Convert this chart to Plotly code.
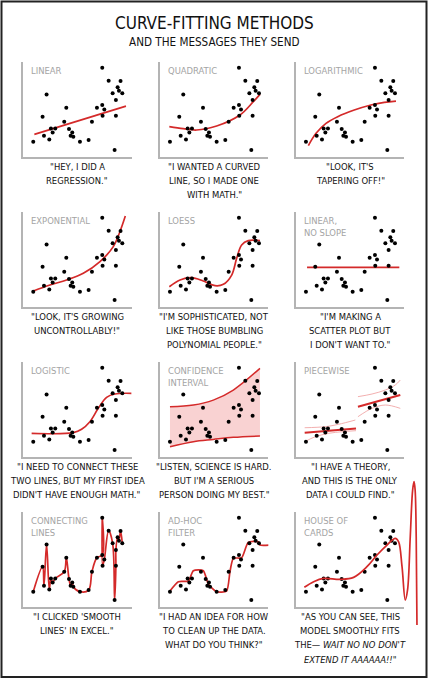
import plotly.graph_objects as go

W, H = 428, 680
FONT = "DejaVu Sans Condensed, Liberation Sans Narrow, Liberation Sans, sans-serif"
RED = "#d42a2a"

# same scatter in every panel (x 0..10 across the box, y 0..10 up the box)
pts_x = [0.92, 1.78, 1.91, 2.15, 2.40, 2.55, 2.71, 2.95, 3.78, 3.97, 4.22, 4.37, 4.52, 4.62, 5.23, 6.03,
         6.34, 6.80, 7.29, 7.29, 7.32, 7.48, 7.88, 8.25, 8.43, 8.55, 8.55, 8.71, 8.83, 8.98, 9.14]
pts_y = [1.58, 4.21, 2.21, 6.56, 1.82, 2.98, 2.56, 2.98, 3.68, 5.16, 2.91, 2.21, 2.56, 2.11, 1.58, 1.75,
         3.68, 5.16, 9.37, 5.44, 4.32, 4.98, 8.00, 6.67, 0.70, 5.96, 4.32, 7.30, 6.95, 7.96, 6.67]

panel_titles = ["LINEAR", "QUADRATIC", "LOGARITHMIC",
                "EXPONENTIAL", "LOESS", "LINEAR,<br>NO SLOPE",
                "LOGISTIC", "CONFIDENCE<br>INTERVAL", "PIECEWISE",
                "CONNECTING<br>LINES", "AD-HOC<br>FILTER", "HOUSE OF<br>CARDS"]

captions = [
    "\"HEY, I DID A<br>REGRESSION.\"",
    "\"I WANTED A CURVED<br>LINE, SO I MADE ONE<br>WITH MATH.\"",
    "\"LOOK, IT'S<br>TAPERING OFF!\"",
    "\"LOOK, IT'S GROWING<br>UNCONTROLLABLY!\"",
    "\"I'M SOPHISTICATED, NOT<br>LIKE THOSE BUMBLING<br>POLYNOMIAL PEOPLE.\"",
    "\"I'M MAKING A<br>SCATTER PLOT BUT<br>I DON'T WANT TO.\"",
    "\"I NEED TO CONNECT THESE<br>TWO LINES, BUT MY FIRST IDEA<br>DIDN'T HAVE ENOUGH MATH.\"",
    "\"LISTEN, SCIENCE IS HARD.<br>BUT I'M A SERIOUS<br>PERSON DOING MY BEST.\"",
    "\"I HAVE A THEORY,<br>AND THIS IS THE ONLY<br>DATA I COULD FIND.\"",
    "\"I CLICKED 'SMOOTH<br>LINES' IN EXCEL.\"",
    "\"I HAD AN IDEA FOR HOW<br>TO CLEAN UP THE DATA.<br>WHAT DO YOU THINK?\"",
    "\"AS YOU CAN SEE, THIS<br>MODEL SMOOTHLY FITS<br>THE\u2014 <i>WAIT NO NO DON'T</i><br><i>EXTEND IT AAAAAA!!</i>\"",
]

# red curves
linear_x = [1.02, 9.48]
linear_y = [2.35, 5.33]
quad_x = [0.86, 2.15, 3.38, 5.23, 7.38, 8.62, 9.23]
quad_y = [3.16, 2.95, 2.81, 3.23, 4.39, 5.79, 6.56]
log_x = [1.14, 1.85, 2.77, 3.85, 5.38, 6.92, 8.15, 9.23]
log_y = [1.16, 2.46, 3.51, 4.21, 4.91, 5.44, 5.72, 5.86]
exp_x = [0.92, 2.46, 4.00, 5.54, 7.08, 8.31, 8.92, 9.42]
exp_y = [1.65, 2.28, 2.81, 3.51, 4.74, 6.32, 7.89, 9.54]
loess_x = [0.86, 1.85, 2.92, 4.00, 5.08, 5.85, 6.62, 7.08, 7.54, 8.15, 9.23]
loess_y = [2.10, 2.81, 3.05, 2.70, 2.21, 2.35, 3.33, 5.09, 6.49, 6.95, 6.95]
flat_x = [1.02, 9.54]
flat_y = [4.14, 4.14]
logistic_x = [0.77, 4.62, 5.38, 6.15, 6.92, 7.69, 8.46, 10.0]
logistic_y = [2.46, 2.53, 2.88, 3.68, 5.09, 6.25, 6.60, 6.67]
ci_x = [0.92, 3.08, 4.92, 6.77, 9.23]
ci_hi = [5.26, 5.44, 5.96, 7.02, 9.30]
ci_lo = [1.05, 1.58, 1.82, 2.04, 2.18]
pw_left_x = [0.80, 5.54]
pw_left_y = [2.53, 2.98]
pw_left_hi_x = [0.80, 2.70, 3.93, 5.48]
pw_left_hi_y = [3.05, 3.16, 3.41, 3.86]
pw_left_lo_x = [0.80, 1.78, 3.01, 4.25, 5.54]
pw_left_lo_y = [1.58, 2.10, 2.46, 2.63, 2.74]
pw_right_x = [5.72, 9.63]
pw_right_y = [5.26, 6.49]
pw_right_hi_x = [5.72, 7.02, 8.25, 9.17, 9.63]
pw_right_hi_y = [6.32, 6.60, 7.02, 7.55, 8.07]
pw_right_lo_x = [5.72, 7.02, 8.25, 9.63]
pw_right_lo_y = [4.21, 5.09, 5.44, 5.09]
adhoc_x = [0.92, 1.69, 2.62, 3.08, 4.00, 4.46, 5.23, 6.15, 6.46, 6.77, 7.54, 8.15, 9.08, 9.23, 10.2]
adhoc_y = [1.65, 2.63, 2.70, 3.79, 3.79, 2.39, 1.58, 1.65, 3.68, 5.09, 5.16, 6.77, 6.84, 6.49, 6.49]
house_x = [0.77, 1.63, 2.55, 4.09, 5.32, 6.55, 7.48, 8.40, 9.17, 9.47, 9.79, 10.09, 10.30,
           10.55, 10.77, 10.90, 11.00, 11.10, 11.17]
house_y = [2.04, 2.63, 2.98, 2.88, 3.09, 4.21, 5.44, 6.49, 7.20, 6.84, 4.21, 0.70, 1.76,
           7.37, 12.28, 13.16, 12.28, 7.37, -1.93]

# panel boxes in pixels
col_left = [23.3, 160.0, 296.0]
row_top = [61.7, 211.7, 361.7, 511.7]
box_w, box_h = 108.3, 95.0
px_x = box_w / 10.0
px_y = box_h / 10.0
cap_gap, cap_step = 9.5, 14.3   # first caption line centre below box, then line to line


def px(x):
    return x / W


def py(y):
    return 1 - y / H


fig = go.Figure()
layout_axes = {}
annotations = []

for i in range(12):
    r, c = divmod(i, 3)
    left, top = col_left[c], row_top[r]
    n = "" if i == 0 else str(i + 1)
    common = dict(showline=True, linecolor="#b4b4b4", linewidth=1.6, showgrid=False,
                  zeroline=False, showticklabels=False, ticks="", fixedrange=True, range=[0, 10])
    layout_axes["xaxis" + n] = dict(common, domain=[px(left), px(left + box_w)], anchor="y" + n)
    layout_axes["yaxis" + n] = dict(common, domain=[py(top + box_h), py(top)], anchor="x" + n)

    annotations.append(dict(text=panel_titles[i], x=px(left + 6), y=py(top + 1), xref="paper", yref="paper",
                            xanchor="left", yanchor="top", align="left", showarrow=False,
                            font=dict(family=FONT, size=9.4, color="#a4a4a4")))
    # caption lines placed one by one, the comic's handwriting is spaced wider than plotly's <br>
    for k, line in enumerate(captions[i].split("<br>")):
        annotations.append(dict(text=line, x=px(left + box_w / 2),
                                y=py(top + box_h + cap_gap + k * cap_step),
                                xref="paper", yref="paper", xanchor="center", yanchor="middle",
                                showarrow=False, font=dict(family=FONT, size=9.4, color="#111111")))

# extra hidden axes for the house-of-cards curve, same scale, bigger box so the spike is not clipped
hc_left, hc_top = col_left[2], row_top[3]
ext_l, ext_r, ext_t, ext_b = hc_left, 426.0, 470.0, 645.0
layout_axes["xaxis13"] = dict(visible=False, domain=[px(ext_l), px(ext_r)], anchor="y13",
                              range=[(ext_l - hc_left) / px_x, (ext_r - hc_left) / px_x], fixedrange=True)
layout_axes["yaxis13"] = dict(visible=False, domain=[py(ext_b), py(ext_t)], anchor="x13",
                              range=[(hc_top + box_h - ext_b) / px_y, (hc_top + box_h - ext_t) / px_y],
                              fixedrange=True)


def ax(i):
    return ("x", "y") if i == 0 else ("x%d" % (i + 1), "y%d" % (i + 1))


def red(i, x, y, width=1.7, color=RED, smooth=1.0, **kw):
    xa, ya = ax(i)
    fig.add_trace(go.Scatter(x=x, y=y, xaxis=xa, yaxis=ya, mode="lines",
                             line=dict(color=color, width=width, shape="spline", smoothing=smooth),
                             hoverinfo="skip", **kw))


red(0, linear_x, linear_y)
red(1, quad_x, quad_y)
red(2, log_x, log_y)
red(3, exp_x, exp_y)
red(4, loess_x, loess_y)
red(5, flat_x, flat_y)
red(6, logistic_x, logistic_y)
red(7, ci_x, ci_lo, width=1.5)
red(7, ci_x, ci_hi, width=1.5, fill="tonexty", fillcolor="#f9d2d2")
for xs, ys in [(pw_left_hi_x, pw_left_hi_y), (pw_left_lo_x, pw_left_lo_y),
               (pw_right_hi_x, pw_right_hi_y), (pw_right_lo_x, pw_right_lo_y)]:
    red(8, xs, ys, width=0.9, color="#f0a6a6")
red(8, pw_left_x, pw_left_y, width=2.0)
red(8, pw_right_x, pw_right_y, width=2.0)

# connecting lines: just the points in x order
order = sorted(range(len(pts_x)), key=lambda k: (pts_x[k], pts_y[k]))
red(9, [pts_x[k] for k in order], [pts_y[k] for k in order])
red(10, adhoc_x, adhoc_y, smooth=0.6)
red(12, house_x, house_y)

for i in range(12):
    xa, ya = ax(i)
    fig.add_trace(go.Scatter(x=pts_x, y=pts_y, xaxis=xa, yaxis=ya, mode="markers",
                             marker=dict(color="black", size=4), hoverinfo="skip", cliponaxis=False))

annotations.append(dict(text="CURVE-FITTING METHODS", x=0.5, y=py(23.5), xref="paper", yref="paper",
                        xanchor="center", yanchor="middle", showarrow=False,
                        font=dict(family=FONT, size=17, color="#111111")))
annotations.append(dict(text="AND THE MESSAGES THEY SEND", x=0.5, y=py(41.5), xref="paper", yref="paper",
                        xanchor="center", yanchor="middle", showarrow=False,
                        font=dict(family=FONT, size=11.6, color="#111111")))

fig.update_layout(
    width=W, height=H,
    margin=dict(l=0, r=0, t=0, b=0),
    paper_bgcolor="white", plot_bgcolor="rgba(0,0,0,0)",
    showlegend=False,
    annotations=annotations,
    shapes=[dict(type="rect", xref="paper", yref="paper", x0=px(1.5), x1=px(426.5), y0=py(677), y1=py(1.5),
                 line=dict(color="#222222", width=2))],
    **layout_axes,
)

# the page body has a default margin; drop it so the figure sits at the window corner
fig.write_html("out.html", config={"displayModeBar": False},
               post_script="document.body.style.margin='0';")
